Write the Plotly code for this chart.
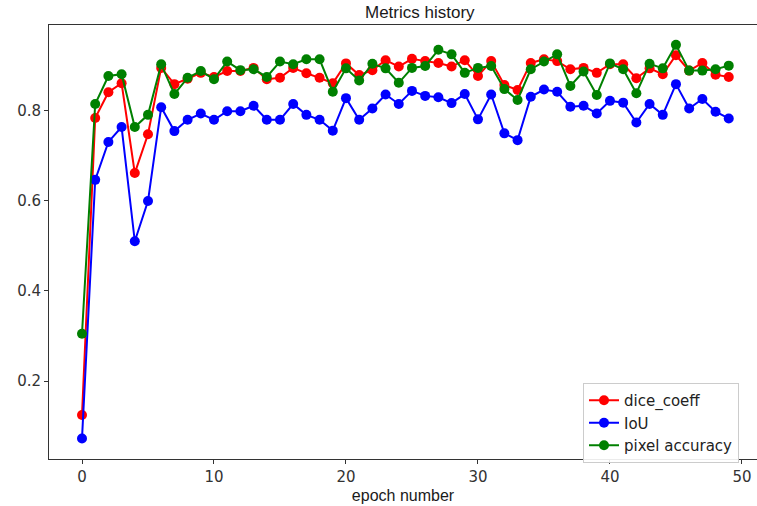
import plotly.graph_objects as go

epochs = list(range(50))

dice_coeff = [0.125, 0.783, 0.840, 0.860, 0.661, 0.747, 0.894, 0.858, 0.870, 0.883,
              0.874, 0.887, 0.887, 0.894, 0.869, 0.872, 0.894, 0.882, 0.872, 0.860,
              0.904, 0.878, 0.889, 0.911, 0.897, 0.914, 0.909, 0.905, 0.897, 0.911,
              0.876, 0.909, 0.856, 0.845, 0.905, 0.913, 0.909, 0.891, 0.894, 0.883,
              0.902, 0.902, 0.871, 0.893, 0.880, 0.922, 0.888, 0.905, 0.879, 0.874]

iou = [0.073, 0.646, 0.730, 0.763, 0.510, 0.599, 0.807, 0.754, 0.779, 0.793,
       0.779, 0.798, 0.798, 0.810, 0.779, 0.779, 0.814, 0.790, 0.779, 0.755,
       0.827, 0.779, 0.804, 0.835, 0.814, 0.843, 0.832, 0.829, 0.816, 0.836,
       0.780, 0.835, 0.749, 0.734, 0.830, 0.846, 0.841, 0.808, 0.810, 0.793,
       0.821, 0.817, 0.773, 0.814, 0.790, 0.858, 0.804, 0.825, 0.797, 0.782]

pixel_accuracy = [0.305, 0.814, 0.876, 0.880, 0.763, 0.790, 0.902, 0.836, 0.872, 0.887,
                  0.869, 0.908, 0.889, 0.891, 0.874, 0.908, 0.902, 0.913, 0.913, 0.841,
                  0.893, 0.866, 0.903, 0.893, 0.861, 0.894, 0.898, 0.934, 0.924, 0.883,
                  0.894, 0.898, 0.847, 0.823, 0.891, 0.908, 0.924, 0.854, 0.886, 0.834,
                  0.904, 0.891, 0.838, 0.903, 0.893, 0.945, 0.888, 0.888, 0.891, 0.899]

x_ticks = [0, 10, 20, 30, 40, 50]
y_ticks = [0.2, 0.4, 0.6, 0.8]
y_tick_labels = ["0.2", "0.4", "0.6", "0.8"]

series = [("dice_coeff", dice_coeff, "#ff0000"),
          ("IoU", iou, "#0000ff"),
          ("pixel accuracy", pixel_accuracy, "#008000")]

fig = go.Figure()
for name, vals, col in series:
    fig.add_trace(go.Scatter(
        x=epochs, y=vals, name=name, mode="lines+markers",
        line=dict(color=col, width=2),
        marker=dict(color=col, size=10),
    ))

W, H = 757, 506
ml, mr, mt, mb = 49, 0, 25, 47
pw, ph = W - ml - mr, H - mt - mb

fig.update_layout(
    width=W, height=H,
    margin=dict(l=ml, r=mr, t=mt, b=mb),
    paper_bgcolor="white", plot_bgcolor="white",
    font=dict(family="DejaVu Sans", size=15, color="#333333"),
    showlegend=True,
    legend=dict(
        x=(583 - ml) / pw, y=(459 - 383) / ph,
        xanchor="left", yanchor="top",
        bordercolor="#cccccc", borderwidth=1, bgcolor="rgba(255,255,255,0.9)",
        font=dict(family="DejaVu Sans", size=15, color="#222222"),
        itemwidth=30, tracegroupgap=0,
    ),
    annotations=[
        dict(text="Metrics history", x=(420 - ml) / pw, y=1.0,
             xref="paper", yref="paper", xanchor="center", yanchor="bottom",
             yshift=1, showarrow=False,
             font=dict(family="Liberation Sans", size=17, color="#1a1a1a")),
    ],
)

fig.update_xaxes(
    range=[-2.5, 51.14], tickvals=x_ticks, ticks="outside", ticklen=4,
    tickcolor="#333333", showgrid=False, zeroline=False,
    showline=True, linecolor="#333333", linewidth=1, mirror=True,
    title=dict(text="epoch number", standoff=4,
               font=dict(family="Liberation Sans", size=16, color="#1a1a1a")),
)
fig.update_yaxes(
    range=[0.0277, 0.989], tickvals=y_ticks, ticktext=y_tick_labels,
    ticks="outside", ticklen=4, tickcolor="#333333", showgrid=False, zeroline=False,
    showline=True, linecolor="#333333", linewidth=1, mirror=False,
)

fig.write_html("out.html", config={"displayModeBar": False},
               post_script="document.body.style.margin='0';document.body.style.overflow='hidden';")
